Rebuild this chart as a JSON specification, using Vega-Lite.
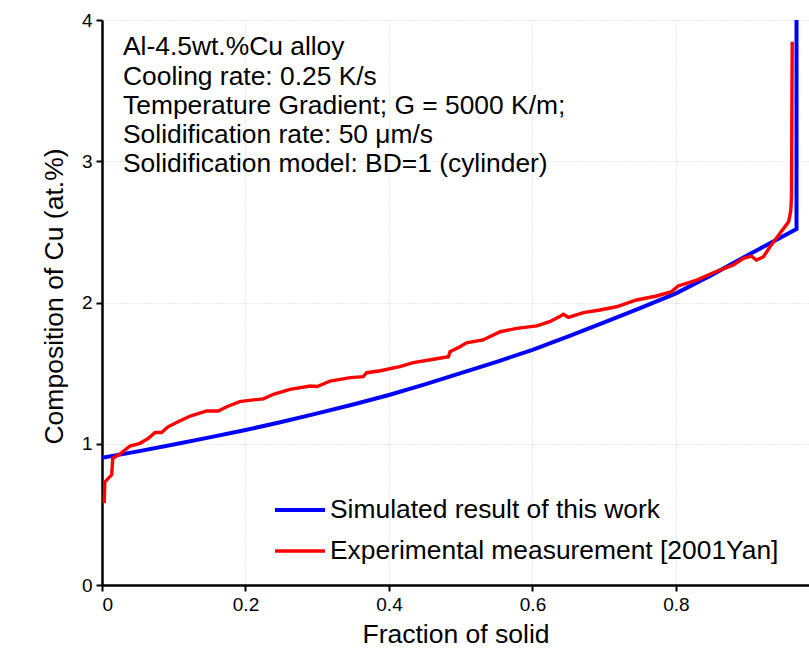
{
  "$schema": "https://vega.github.io/schema/vega-lite/v6.json",
  "width": 707,
  "height": 565,
  "autosize": {"type": "none"},
  "padding": {"left": 102, "top": 20, "right": 0, "bottom": 63},
  "background": "white",
  "config": {
    "view": {"stroke": null},
    "font": "Liberation Sans",
    "axis": {
      "domainColor": "black", "domainWidth": 2.5,
      "tickColor": "black", "tickWidth": 2, "tickSize": 6,
      "labelFont": "Liberation Sans", "labelFontSize": 19, "labelColor": "black",
      "titleFont": "Liberation Sans", "titleFontSize": 26.5, "titleFontWeight": "normal", "titleColor": "black",
      "grid": true, "gridColor": "#d4d4d4", "gridDash": [1, 2], "gridWidth": 1
    }
  },
  "datasets": {
    "curves": [
      {"series": "Simulated result of this work", "k": 1, "fs": 0.0, "cu": 0.9},
      {"series": "Simulated result of this work", "k": 2, "fs": 0.05, "cu": 0.946},
      {"series": "Simulated result of this work", "k": 3, "fs": 0.1, "cu": 0.995},
      {"series": "Simulated result of this work", "k": 4, "fs": 0.15, "cu": 1.045},
      {"series": "Simulated result of this work", "k": 5, "fs": 0.2, "cu": 1.097},
      {"series": "Simulated result of this work", "k": 6, "fs": 0.25, "cu": 1.154},
      {"series": "Simulated result of this work", "k": 7, "fs": 0.3, "cu": 1.215},
      {"series": "Simulated result of this work", "k": 8, "fs": 0.35, "cu": 1.278},
      {"series": "Simulated result of this work", "k": 9, "fs": 0.4, "cu": 1.345},
      {"series": "Simulated result of this work", "k": 10, "fs": 0.45, "cu": 1.42},
      {"series": "Simulated result of this work", "k": 11, "fs": 0.5, "cu": 1.5},
      {"series": "Simulated result of this work", "k": 12, "fs": 0.55, "cu": 1.58},
      {"series": "Simulated result of this work", "k": 13, "fs": 0.6, "cu": 1.665},
      {"series": "Simulated result of this work", "k": 14, "fs": 0.65, "cu": 1.76},
      {"series": "Simulated result of this work", "k": 15, "fs": 0.7, "cu": 1.86},
      {"series": "Simulated result of this work", "k": 16, "fs": 0.75, "cu": 1.96},
      {"series": "Simulated result of this work", "k": 17, "fs": 0.8, "cu": 2.065},
      {"series": "Simulated result of this work", "k": 18, "fs": 0.85, "cu": 2.195},
      {"series": "Simulated result of this work", "k": 19, "fs": 0.88, "cu": 2.28},
      {"series": "Simulated result of this work", "k": 20, "fs": 0.92, "cu": 2.39},
      {"series": "Simulated result of this work", "k": 21, "fs": 0.968, "cu": 2.52},
      {"series": "Simulated result of this work", "k": 22, "fs": 0.968, "cu": 4.3},
      {"series": "Experimental measurement [2001Yan]", "k": 1, "fs": 0.003, "cu": 0.58},
      {"series": "Experimental measurement [2001Yan]", "k": 2, "fs": 0.004, "cu": 0.73},
      {"series": "Experimental measurement [2001Yan]", "k": 3, "fs": 0.0135, "cu": 0.78},
      {"series": "Experimental measurement [2001Yan]", "k": 4, "fs": 0.015, "cu": 0.897},
      {"series": "Experimental measurement [2001Yan]", "k": 5, "fs": 0.025, "cu": 0.927},
      {"series": "Experimental measurement [2001Yan]", "k": 6, "fs": 0.039, "cu": 0.984},
      {"series": "Experimental measurement [2001Yan]", "k": 7, "fs": 0.053, "cu": 1.003},
      {"series": "Experimental measurement [2001Yan]", "k": 8, "fs": 0.065, "cu": 1.04},
      {"series": "Experimental measurement [2001Yan]", "k": 9, "fs": 0.074, "cu": 1.08},
      {"series": "Experimental measurement [2001Yan]", "k": 10, "fs": 0.083, "cu": 1.08},
      {"series": "Experimental measurement [2001Yan]", "k": 11, "fs": 0.092, "cu": 1.12},
      {"series": "Experimental measurement [2001Yan]", "k": 12, "fs": 0.109, "cu": 1.163},
      {"series": "Experimental measurement [2001Yan]", "k": 13, "fs": 0.123, "cu": 1.196},
      {"series": "Experimental measurement [2001Yan]", "k": 14, "fs": 0.146, "cu": 1.232},
      {"series": "Experimental measurement [2001Yan]", "k": 15, "fs": 0.162, "cu": 1.232},
      {"series": "Experimental measurement [2001Yan]", "k": 16, "fs": 0.174, "cu": 1.262},
      {"series": "Experimental measurement [2001Yan]", "k": 17, "fs": 0.192, "cu": 1.298},
      {"series": "Experimental measurement [2001Yan]", "k": 18, "fs": 0.202, "cu": 1.305},
      {"series": "Experimental measurement [2001Yan]", "k": 19, "fs": 0.225, "cu": 1.318},
      {"series": "Experimental measurement [2001Yan]", "k": 20, "fs": 0.239, "cu": 1.35},
      {"series": "Experimental measurement [2001Yan]", "k": 21, "fs": 0.262, "cu": 1.385},
      {"series": "Experimental measurement [2001Yan]", "k": 22, "fs": 0.29, "cu": 1.409},
      {"series": "Experimental measurement [2001Yan]", "k": 23, "fs": 0.3, "cu": 1.405},
      {"series": "Experimental measurement [2001Yan]", "k": 24, "fs": 0.318, "cu": 1.444},
      {"series": "Experimental measurement [2001Yan]", "k": 25, "fs": 0.346, "cu": 1.468},
      {"series": "Experimental measurement [2001Yan]", "k": 26, "fs": 0.364, "cu": 1.475},
      {"series": "Experimental measurement [2001Yan]", "k": 27, "fs": 0.369, "cu": 1.503},
      {"series": "Experimental measurement [2001Yan]", "k": 28, "fs": 0.388, "cu": 1.517},
      {"series": "Experimental measurement [2001Yan]", "k": 29, "fs": 0.415, "cu": 1.546},
      {"series": "Experimental measurement [2001Yan]", "k": 30, "fs": 0.434, "cu": 1.574},
      {"series": "Experimental measurement [2001Yan]", "k": 31, "fs": 0.462, "cu": 1.598},
      {"series": "Experimental measurement [2001Yan]", "k": 32, "fs": 0.483, "cu": 1.616},
      {"series": "Experimental measurement [2001Yan]", "k": 33, "fs": 0.485, "cu": 1.652},
      {"series": "Experimental measurement [2001Yan]", "k": 34, "fs": 0.499, "cu": 1.687},
      {"series": "Experimental measurement [2001Yan]", "k": 35, "fs": 0.508, "cu": 1.715},
      {"series": "Experimental measurement [2001Yan]", "k": 36, "fs": 0.531, "cu": 1.735},
      {"series": "Experimental measurement [2001Yan]", "k": 37, "fs": 0.555, "cu": 1.793},
      {"series": "Experimental measurement [2001Yan]", "k": 38, "fs": 0.578, "cu": 1.817},
      {"series": "Experimental measurement [2001Yan]", "k": 39, "fs": 0.606, "cu": 1.834},
      {"series": "Experimental measurement [2001Yan]", "k": 40, "fs": 0.624, "cu": 1.864},
      {"series": "Experimental measurement [2001Yan]", "k": 41, "fs": 0.638, "cu": 1.9},
      {"series": "Experimental measurement [2001Yan]", "k": 42, "fs": 0.643, "cu": 1.916},
      {"series": "Experimental measurement [2001Yan]", "k": 43, "fs": 0.65, "cu": 1.895},
      {"series": "Experimental measurement [2001Yan]", "k": 44, "fs": 0.671, "cu": 1.928},
      {"series": "Experimental measurement [2001Yan]", "k": 45, "fs": 0.694, "cu": 1.947},
      {"series": "Experimental measurement [2001Yan]", "k": 46, "fs": 0.717, "cu": 1.97},
      {"series": "Experimental measurement [2001Yan]", "k": 47, "fs": 0.745, "cu": 2.018},
      {"series": "Experimental measurement [2001Yan]", "k": 48, "fs": 0.773, "cu": 2.046},
      {"series": "Experimental measurement [2001Yan]", "k": 49, "fs": 0.794, "cu": 2.077},
      {"series": "Experimental measurement [2001Yan]", "k": 50, "fs": 0.803, "cu": 2.117},
      {"series": "Experimental measurement [2001Yan]", "k": 51, "fs": 0.829, "cu": 2.159},
      {"series": "Experimental measurement [2001Yan]", "k": 52, "fs": 0.852, "cu": 2.211},
      {"series": "Experimental measurement [2001Yan]", "k": 53, "fs": 0.88, "cu": 2.266},
      {"series": "Experimental measurement [2001Yan]", "k": 54, "fs": 0.894, "cu": 2.313},
      {"series": "Experimental measurement [2001Yan]", "k": 55, "fs": 0.905, "cu": 2.329},
      {"series": "Experimental measurement [2001Yan]", "k": 56, "fs": 0.912, "cu": 2.3},
      {"series": "Experimental measurement [2001Yan]", "k": 57, "fs": 0.922, "cu": 2.324},
      {"series": "Experimental measurement [2001Yan]", "k": 58, "fs": 0.931, "cu": 2.395},
      {"series": "Experimental measurement [2001Yan]", "k": 59, "fs": 0.945, "cu": 2.49},
      {"series": "Experimental measurement [2001Yan]", "k": 60, "fs": 0.957, "cu": 2.572},
      {"series": "Experimental measurement [2001Yan]", "k": 61, "fs": 0.96, "cu": 2.65},
      {"series": "Experimental measurement [2001Yan]", "k": 62, "fs": 0.961, "cu": 2.75},
      {"series": "Experimental measurement [2001Yan]", "k": 63, "fs": 0.962, "cu": 3.846}
    ]
  },
  "layer": [
    {
      "data": {"name": "curves"},
      "mark": {"type": "line", "clip": true},
      "encoding": {
        "x": {
          "field": "fs", "type": "quantitative",
          "scale": {"domain": [0, 0.9854], "nice": false, "zero": false},
          "axis": {"title": "Fraction of solid", "values": [0, 0.2, 0.4, 0.6, 0.8], "format": "~g", "labelPadding": 4, "titlePadding": 7}
        },
        "y": {
          "field": "cu", "type": "quantitative",
          "scale": {"domain": [0, 4], "nice": false},
          "axis": {"title": "Composition of Cu (at.%)", "values": [0, 1, 2, 3, 4], "format": "~g", "labelPadding": 4, "titleX": -48, "titleY": 276, "titleBaseline": "middle", "titleAlign": "center", "titleAngle": -90}
        },
        "order": {"field": "k", "type": "quantitative"},
        "strokeWidth": {
          "field": "series", "type": "nominal",
          "scale": {"domain": ["Simulated result of this work", "Experimental measurement [2001Yan]"], "range": [4, 3.4]},
          "legend": null
        },
        "color": {
          "field": "series", "type": "nominal",
          "scale": {"domain": ["Simulated result of this work", "Experimental measurement [2001Yan]"], "range": ["#0000ff", "#ff0000"]},
          "legend": {
            "title": null, "orient": "none", "legendX": 171, "legendY": 463,
            "symbolType": "stroke", "symbolSize": 2500, "symbolStrokeWidth": 3,
            "labelFont": "Liberation Sans", "labelFontSize": 26.4, "labelColor": "black",
            "labelOffset": 3, "labelLimit": 700, "rowPadding": -4, "padding": 0
          }
        }
      }
    },
    {
      "mark": {"type": "rule", "color": "black", "strokeWidth": 2.5},
      "encoding": {"y": {"datum": 4, "type": "quantitative"}}
    },
    {
      "data": {"values": [{}]},
      "mark": {"type": "text", "align": "left", "baseline": "alphabetic", "fontSize": 26.4, "lineHeight": 29.2, "font": "Liberation Sans", "color": "black"},
      "encoding": {
        "x": {"datum": 0.0293, "type": "quantitative"},
        "y": {"datum": 3.75, "type": "quantitative"},
        "text": {"value": ["Al-4.5wt.%Cu alloy", "Cooling rate: 0.25 K/s", "Temperature Gradient; G = 5000 K/m;", "Solidification rate: 50 μm/s", "Solidification model: BD=1 (cylinder)"]}
      }
    }
  ]
}
